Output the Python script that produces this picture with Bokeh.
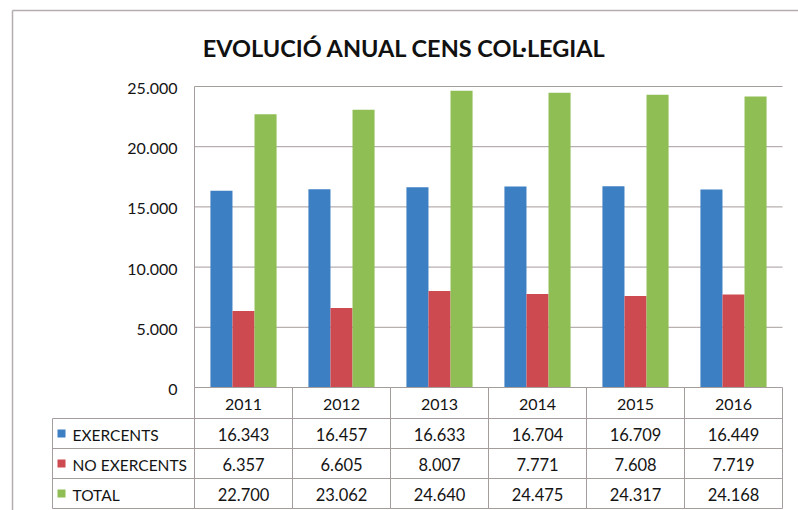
from bokeh.plotting import figure
from bokeh.models import Range1d, ColumnDataSource
from bokeh.core.properties import value
from bokeh.embed import file_html
from bokeh.resources import INLINE

# ---- data ----
years = ["2011", "2012", "2013", "2014", "2015", "2016"]
exercents = [16343, 16457, 16633, 16704, 16709, 16449]
no_exercents = [6357, 6605, 8007, 7771, 7608, 7719]
total = [22700, 23062, 24640, 24475, 24317, 24168]
series_names = ["EXERCENTS", "NO EXERCENTS", "TOTAL"]
series_colors = ["#3D7FC3", "#CD4A50", "#8FBE55"]
y_ticks = [0, 5000, 10000, 15000, 20000, 25000]
title_text = "EVOLUCIÓ ANUAL CENS COL·LEGIAL"

# ---- layout helpers (canvas pixel -> data) ----
W, H = 798, 510
COL_PX = 98.0
X0_PX = 194.0
Y0_PX = 387.0
Y_TOP_PX = 86.0
UPP = y_ticks[-1] / (Y0_PX - Y_TOP_PX)


def X(px):
    return (px - X0_PX) / COL_PX


def Y(py):
    return (Y0_PX - py) * UPP


def fmt(v):
    return f"{v:,}".replace(",", ".")


FONT = value("Lato")
LINE = "#a59d9b"
TXT = "#141414"

p = figure(width=W, height=H, x_range=Range1d(X(0), X(W)), y_range=Range1d(Y(H), Y(0)),
           output_backend="svg", toolbar_location=None, min_border=0,
           x_axis_location=None, y_axis_location=None)
p.grid.visible = False
p.outline_line_color = None
p.background_fill_color = "white"
p.border_fill_color = "white"

n = len(years)
centers = [i + 0.5 for i in range(n)]

# outer border
p.segment(x0=[X(12)], y0=[Y(10)], x1=[X(W)], y1=[Y(10)], line_color="#b5adad", line_width=1.5)
p.segment(x0=[X(12)], y0=[Y(10)], x1=[X(12)], y1=[Y(H)], line_color="#b5adad", line_width=1.5)

# gridlines
gt = [t for t in y_ticks if t > 0]
p.segment(x0=[0] * len(gt), y0=gt, x1=[n] * len(gt), y1=gt, line_color=LINE, line_width=1)

# bars
bw = 0.225
for k, (vals, col) in enumerate(zip([exercents, no_exercents, total], series_colors)):
    src = ColumnDataSource(dict(x=[c + (k - 1) * bw for c in centers], top=vals))
    p.vbar(x="x", top="top", bottom=0, width=bw, source=src, fill_color=col, line_color=None)

# y tick labels
p.text(x=[X(177)] * len(y_ticks), y=y_ticks, text=[fmt(t) for t in y_ticks],
       text_font=FONT, text_font_size=value("16px"), text_align="right",
       text_baseline="middle", text_color=TXT, y_offset=2)

# table geometry
row_px = [Y0_PX, 418, 448, 478, 508]
row_y = [Y(r) for r in row_px]
tl = X(52)
# horizontal lines
p.segment(x0=[0], y0=[row_y[0]], x1=[n], y1=[row_y[0]], line_color=LINE, line_width=1)
p.segment(x0=[tl] * 4, y0=row_y[1:], x1=[n] * 4, y1=row_y[1:], line_color=LINE, line_width=1)
# vertical lines
p.segment(x0=[tl], y0=[row_y[1]], x1=[tl], y1=[row_y[-1]], line_color=LINE, line_width=1)
p.segment(x0=[0], y0=[y_ticks[-1]], x1=[0], y1=[row_y[-1]], line_color=LINE, line_width=1)
vx = list(range(1, n + 1))
p.segment(x0=vx, y0=[row_y[0]] * n, x1=vx, y1=[row_y[-1]] * n, line_color=LINE, line_width=1)

# year row
yc = [(row_y[i] + row_y[i + 1]) / 2 for i in range(4)]
p.text(x=centers, y=[yc[0]] * n, text=years, text_font=FONT, text_font_size=value("16px"),
       text_align="center", text_baseline="middle", text_color=TXT, y_offset=1)

# data rows
for k, (vals, name, col) in enumerate(zip([exercents, no_exercents, total], series_names, series_colors)):
    yy = yc[k + 1]
    p.text(x=centers, y=[yy] * n, text=[fmt(v) for v in vals], text_font=FONT,
           text_font_size=value("16.5px"), text_align="center", text_baseline="middle",
           text_color=TXT, y_offset=1)
    p.scatter(x=[X(61)], y=[yy], marker="square", size=8, fill_color=col, line_color=None)
    p.text(x=[X(72)], y=[yy], text=[name], text_font=FONT, text_font_size=value("15.5px"),
           text_align="left", text_baseline="middle", text_color=TXT, y_offset=1)

# title
p.text(x=[X(404)], y=[Y(47)], text=[title_text], text_font=FONT, text_font_size=value("23.5px"),
       text_font_style="bold", text_align="center", text_baseline="middle", text_color="#111111")

open("out.html", "w").write(file_html(p, INLINE))
